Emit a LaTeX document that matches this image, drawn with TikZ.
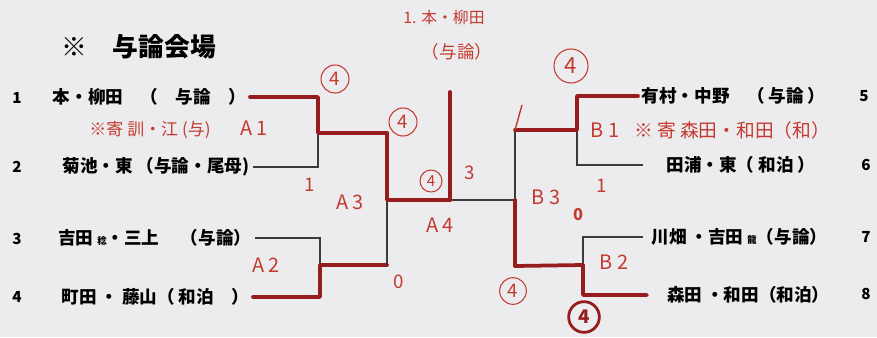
\documentclass[tikz,border=0pt]{standalone}
\usepackage{fontspec}
\setmainfont{Noto Sans CJK JP}
\definecolor{wred}{RGB}{150,28,30}
\definecolor{hred}{RGB}{196,58,48}
\definecolor{lgray}{RGB}{60,60,60}
\definecolor{paper}{RGB}{236,236,238}

\begin{document}
\begin{tikzpicture}[x=0.03cm,y=-0.03cm,
		win/.style={draw=wred,line width=3.2pt,line join=round,line cap=round},
		lose/.style={draw=lgray,line width=1.1pt},
		player/.style={inner sep=3pt,font=\fontsize{15}{18}\selectfont\bfseries},
		num/.style={font=\fontsize{13}{16}\selectfont\bfseries},
		hand/.style={text=hred,inner sep=0pt,font=\fontsize{16}{19}\selectfont},
		circ/.style={circle,draw=hred,text=hred,line width=0.9pt,inner sep=0pt,minimum size=0.84cm,font=\fontsize{16}{18}\selectfont}]
		\fill[paper] (0,0) rectangle (877,337);
		\useasboundingbox (0,0) rectangle (877,337);
		\node[font=\fontsize{22}{26}\selectfont\bfseries,anchor=west] (title) at (57,47) {※\quad 与論会場};
		% left side
		\node[num] (n1) at (17,98) {1};
		\node[num] (n2) at (17,167) {2};
		\node[num] (n3) at (17,239) {3};
		\node[num] (n4) at (17,297) {4};
		\node[player,anchor=east] (p1) at (250,97) {本・柳田　（　与論　）};
		\node[player,anchor=east] (p2) at (253,167) {菊池・東 （与論・尾母)};
		\node[player,anchor=east] (p3) at (255,238) {吉田 {\fontsize{8}{9}\selectfont 稔}・三上　 （与論）};
		\node[player,anchor=east] (p4) at (253,297) {町田 ・ 藤山（ 和泊　）};
		% right side
		\node[player,anchor=west] (p5) at (638,96) {有村・中野　（ 与論 ）};
		\node[player,anchor=west,inner xsep=0.7cm] (p6) at (643,165) {田浦・東（ 和泊 ）};
		\node[player,anchor=west,inner xsep=0.25cm] (p7) at (643,237) {川畑 ・吉田 {\fontsize{8}{9}\selectfont 龍}（与論）};
		\node[player,anchor=west,inner xsep=0.6cm] (p8) at (647,295) {森田 ・和田（和泊）};
		\node[num] (n5) at (864,96) {5};
		\node[num] (n6) at (866,165) {6};
		\node[num] (n7) at (866,237) {7};
		\node[num] (n8) at (866,294) {8};
		% joints
		\coordinate (a1) at (318,133);
		\coordinate (a2) at (320,265);
		\coordinate (a3t) at (387,133);
		\coordinate (a3b) at (387,265);
		\coordinate (a3) at (387,200);
		\coordinate (fin) at (450,200);
		\coordinate (champ) at (450,92);
		\coordinate (b3) at (515,200);
		\coordinate (b3t) at (515,130);
		\coordinate (b3b) at (515,266);
		\coordinate (b1) at (577,130);
		\coordinate (b2) at (583,265);
		\coordinate (tick) at (522,105);
		% bracket
		\draw[lose] (p2.east) -| (a1);
		\draw[win] (p1.east) -| (a1) -- (a3t);
		\draw[lose] (p3.east) -| (a2);
		\draw[win] (p4.east) -| (a2) -- (a3b);
		\draw[lose] (a3b) -- (a3);
		\draw[win] (a3t) -- (a3) -- (fin);
		\draw[lose] (fin) -- (b3);
		\draw[win] (fin) -- (champ);
		\draw[lose] (b3t) -- (b3);
		\draw[win] (b3b) -- (b3);
		\draw[lose] (p6.west) -| (b1);
		\draw[win] (p5.west) -| (b1) -- (b3t);
		\draw[lose] (p7.west) -| (b2);
		\draw[win] (p8.west) -| (b2) -- (b3b);
		\draw[hred,line width=1.2pt] (b3t) -- (tick);
		% handwritten notes
		\node[hand,font=\fontsize{13.5}{16}\selectfont] (w1) at (444,18) {1. 本・柳田};
		\node[hand,font=\fontsize{15}{18}\selectfont] (w2) at (457,52) {（与論）};
		\node[hand,font=\fontsize{14.5}{17}\selectfont] (s1) at (150,130) {※寄 訓・江 (与)};
		\node[hand,font=\fontsize{17}{20}\selectfont] (la1) at (254,128) {A 1};
		\node[hand,font=\fontsize{17}{20}\selectfont] (la2) at (266,265) {A 2};
		\node[hand,font=\fontsize{17}{20}\selectfont] (la3) at (350,202) {A 3};
		\node[hand,font=\fontsize{17}{20}\selectfont] (la4) at (440,225) {A 4};
		\node[hand,font=\fontsize{17}{20}\selectfont] (lb1) at (605,130) {B 1};
		\node[hand,anchor=west] (s2) at (634,130) {※ 寄 森田・和田（和）};
		\node[hand,font=\fontsize{17}{20}\selectfont] (lb2) at (614,262) {B 2};
		\node[hand,font=\fontsize{17}{20}\selectfont] (lb3) at (546,197) {B 3};
		\node[hand] (sc1) at (310,185) {1};
		\node[hand] (sc2) at (470,173) {3};
		\node[hand] (sc3) at (399,282) {0};
		\node[hand] (sc4) at (602,186) {1};
		\node[hand,font=\fontsize{14}{16}\selectfont\bfseries] (sc5) at (578,215) {0};
		\node[circ] (c1) at (335,79) {4};
		\node[circ] (c2) at (403,122) {4};
		\node[circ,minimum size=0.66cm,font=\fontsize{13}{15}\selectfont] (c3) at (431,181) {4};
		\node[circ,minimum size=1.02cm,font=\fontsize{19}{22}\selectfont] (c4) at (571,66) {4};
		\node[circ,minimum size=0.8cm] (c5) at (513,291) {4};
		\node[circ,minimum size=0.92cm,line width=2.4pt,draw=wred,text=wred,font=\fontsize{16}{18}\selectfont\bfseries] (c6) at (584,317) {4};
	\end{tikzpicture}
\end{document}
